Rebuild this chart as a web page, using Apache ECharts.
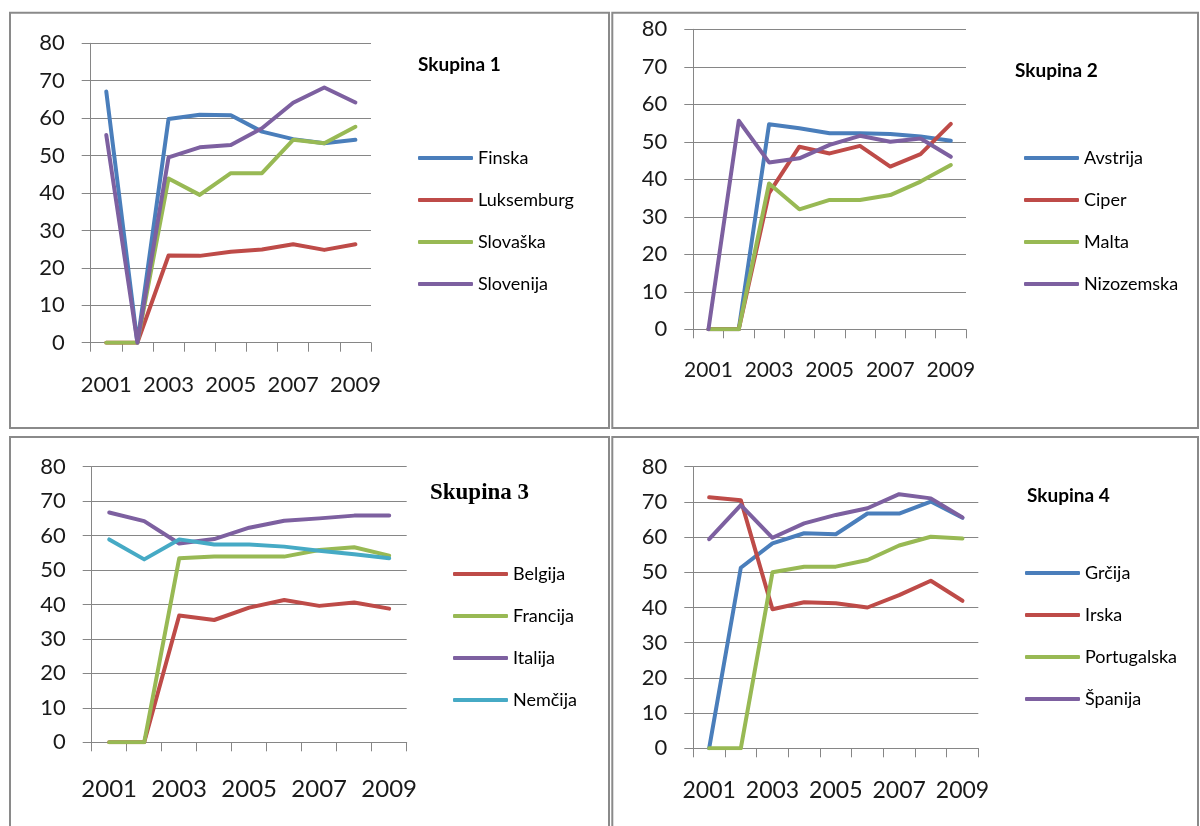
<!DOCTYPE html>
<html>
<head>
<meta charset="utf-8">
<title>Skupine</title>
<script src="https://cdn.jsdelivr.net/npm/echarts@6/dist/echarts.min.js"></script>
<style>
  html, body { margin: 0; padding: 0; background: #ffffff; }
  #chart { width: 1200px; height: 826px; }
</style>
</head>
<body>
<div id="chart"></div>
<script>
// Years on the category axis
const years = ['2001', '2002', '2003', '2004', '2005', '2006', '2007', '2008', '2009'];
const yMin = 0, yMax = 80, yStep = 10;

// Skupina 1
const finska      = [67.1, 0, 59.8, 60.9, 60.8, 56.4, 54.4, 53.3, 54.2];
const luksemburg  = [0, 0, 23.3, 23.2, 24.3, 24.9, 26.3, 24.8, 26.3];
const slovaska    = [0, 0, 43.9, 39.5, 45.3, 45.3, 54.2, 53.3, 57.7];
const slovenija   = [55.5, 0, 49.5, 52.2, 52.8, 57.3, 64.1, 68.2, 64.2];

// Skupina 2
const avstrija    = [0, 0, 54.7, 53.6, 52.3, 52.3, 52.1, 51.4, 50.3];
const ciper       = [0, 0, 36.3, 48.7, 46.9, 48.9, 43.4, 46.7, 54.8];
const malta       = [0, 0, 38.9, 32.0, 34.5, 34.5, 35.8, 39.4, 43.8];
const nizozemska  = [0, 55.6, 44.5, 45.6, 49.2, 51.6, 50.0, 50.9, 46.0];

// Skupina 3
const belgija     = [0, 0, 36.8, 35.5, 39.1, 41.3, 39.6, 40.6, 38.8];
const francija    = [0, 0, 53.4, 53.9, 53.9, 53.9, 55.8, 56.6, 54.2];
const italija     = [66.7, 64.2, 57.7, 59.0, 62.3, 64.3, 65.0, 65.8, 65.8];
const nemcija     = [58.9, 53.1, 58.9, 57.4, 57.4, 56.8, 55.6, 54.6, 53.4];

// Skupina 4
const grcija      = [0, 51.3, 58.2, 61.1, 60.8, 66.7, 66.7, 70.1, 65.5];
const irska       = [71.3, 70.5, 39.5, 41.5, 41.2, 40.0, 43.5, 47.6, 41.9];
const portugalska = [0, 0, 50.0, 51.6, 51.6, 53.5, 57.6, 60.1, 59.6];
const spanija     = [59.4, 69.1, 59.8, 63.9, 66.3, 68.2, 72.2, 71.0, 65.6];

const groupTitles = ['Skupina 1', 'Skupina 2', 'Skupina 3', 'Skupina 4'];
const groupNames = [
  ['Finska', 'Luksemburg', 'Slovaška', 'Slovenija'],
  ['Avstrija', 'Ciper', 'Malta', 'Nizozemska'],
  ['Belgija', 'Francija', 'Italija', 'Nemčija'],
  ['Grčija', 'Irska', 'Portugalska', 'Španija']
];
const groupValues = [
  [finska, luksemburg, slovaska, slovenija],
  [avstrija, ciper, malta, nizozemska],
  [belgija, francija, italija, nemcija],
  [grcija, irska, portugalska, spanija]
];

// Office-style palette
const BLUE = '#4a7ebb', RED = '#be4b48', GREEN = '#98b954', PURPLE = '#7d60a0', CYAN = '#46aac5';
const groupColors = [
  [BLUE, RED, GREEN, PURPLE],
  [BLUE, RED, GREEN, PURPLE],
  [RED, GREEN, PURPLE, CYAN],
  [BLUE, RED, GREEN, PURPLE]
];

// Panel layout
const grids = [
  { left: 90.7, top: 43.3, width: 280.3, height: 299.4 },
  { left: 693.3, top: 29.3, width: 272.7, height: 300 },
  { left: 91.7, top: 466.7, width: 315, height: 275.6 },
  { left: 693.3, top: 466.7, width: 285, height: 281.6 }
];
const xLabelFont = [22, 21, 24, 23];
const xLabelMargin = [31, 30, 35, 31];
const titleSpec = [
  { left: 418, top: 55, font: 'Lato', size: 19 },
  { left: 1015, top: 61, font: 'Lato', size: 19 },
  { left: 430, top: 482, font: 'Liberation Serif', size: 23 },
  { left: 1027, top: 486, font: 'Lato', size: 19 }
];
const legendPos = [
  { left: 418, top: 148 },
  { left: 1024, top: 148 },
  { left: 453, top: 564 },
  { left: 1025, top: 563 }
];

const GRAY = '#868686';
const TEXT = '#1a1a1a';

const xAxes = [], yAxes = [], series = [], legends = [], titles = [];
for (let g = 0; g < 4; g++) {
  xAxes.push({
    type: 'category',
    gridIndex: g,
    data: years,
    boundaryGap: true,
    axisLine: { show: true, lineStyle: { color: GRAY, width: 1 } },
    axisTick: { show: true, interval: 0, length: 9, lineStyle: { color: GRAY } },
    axisLabel: {
      interval: 1,
      margin: xLabelMargin[g],
      color: TEXT,
      fontFamily: 'Lato',
      fontSize: xLabelFont[g]
    },
    splitLine: { show: false }
  });
  yAxes.push({
    type: 'value',
    gridIndex: g,
    min: yMin,
    max: yMax,
    interval: yStep,
    axisLine: { show: true, lineStyle: { color: GRAY, width: 1 } },
    axisTick: { show: true, length: 9, lineStyle: { color: GRAY } },
    axisLabel: { margin: 26, color: TEXT, fontFamily: 'Lato', fontSize: 22 },
    splitLine: { show: true, lineStyle: { color: GRAY, width: 1 } }
  });
  groupNames[g].forEach((name, i) => {
    series.push({
      type: 'line',
      name: name,
      xAxisIndex: g,
      yAxisIndex: g,
      data: groupValues[g][i],
      showSymbol: false,
      symbol: 'none',
      color: groupColors[g][i],
      lineStyle: { width: 4, color: groupColors[g][i], cap: 'round', join: 'round' },
      emphasis: { disabled: true }
    });
  });
  legends.push({
    data: groupNames[g],
    orient: 'vertical',
    left: legendPos[g].left,
    top: legendPos[g].top,
    padding: 0,
    itemGap: 22,
    itemWidth: 55,
    itemHeight: 4,
    icon: 'roundRect',
    selectedMode: false,
    textStyle: { color: '#000', fontFamily: 'Lato', fontSize: 18, lineHeight: 20 }
  });
  titles.push({
    text: groupTitles[g],
    left: titleSpec[g].left,
    top: titleSpec[g].top,
    padding: 0,
    textStyle: {
      color: '#000',
      fontFamily: titleSpec[g].font,
      fontSize: titleSpec[g].size,
      fontWeight: 'bold'
    }
  });
}

// Frames around the four panels
const frameStyle = { fill: 'none', stroke: '#8a8a8a', lineWidth: 2 };
const frames = [
  { x: 10, y: 12.7, width: 599, height: 415.3 },
  { x: 612.3, y: 12.7, width: 585.7, height: 415.3 },
  { x: 10, y: 437, width: 599, height: 400 },
  { x: 612.3, y: 437, width: 585.7, height: 400 }
].map(s => ({ type: 'rect', shape: s, style: frameStyle, silent: true, z: 0 }));

const chart = echarts.init(document.getElementById('chart'), null, { renderer: 'canvas' });
chart.setOption({
  animation: false,
  backgroundColor: '#ffffff',
  title: titles,
  legend: legends,
  grid: grids,
  xAxis: xAxes,
  yAxis: yAxes,
  series: series,
  graphic: frames
});
</script>
</body>
</html>
